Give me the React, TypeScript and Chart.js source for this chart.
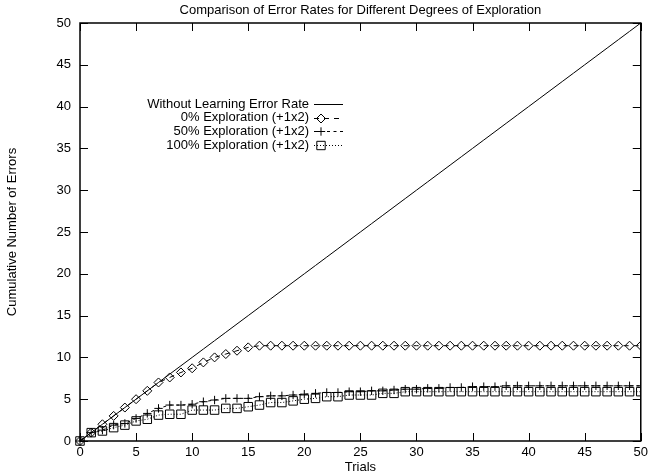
import React, { useEffect, useRef } from 'react';
import { Chart, registerables } from 'chart.js';

Chart.register(...registerables);

const chartTitle = 'Comparison of Error Rates for Different Degrees of Exploration';
const xAxisTitle = 'Trials';
const yAxisTitle = 'Cumulative Number of Errors';

const trials = [
  0, 1, 2, 3, 4, 5, 6, 7, 8, 9, 10, 11, 12, 13, 14, 15, 16, 17, 18, 19, 20, 21, 22, 23, 24, 25,
  26, 27, 28, 29, 30, 31, 32, 33, 34, 35, 36, 37, 38, 39, 40, 41, 42, 43, 44, 45, 46, 47, 48, 49, 50,
];

const withoutLearning = [
  0, 1, 2, 3, 4, 5, 6, 7, 8, 9, 10, 11, 12, 13, 14, 15, 16, 17, 18, 19, 20, 21, 22, 23, 24, 25,
  26, 27, 28, 29, 30, 31, 32, 33, 34, 35, 36, 37, 38, 39, 40, 41, 42, 43, 44, 45, 46, 47, 48, 49, 50,
];

const exploration0 = [
  0, 1, 2, 3, 4, 5, 6, 7, 7.6, 8.2, 8.7, 9.4, 10.0, 10.4, 10.8, 11.2, 11.4, 11.4, 11.4, 11.4, 11.4,
  11.4, 11.4, 11.4, 11.4, 11.4, 11.4, 11.4, 11.4, 11.4, 11.4, 11.4, 11.4, 11.4, 11.4, 11.4, 11.4,
  11.4, 11.4, 11.4, 11.4, 11.4, 11.4, 11.4, 11.4, 11.4, 11.4, 11.4, 11.4, 11.4, 11.4,
];

const exploration50 = [
  0, 1.0, 1.3, 1.9, 2.1, 2.7, 3.3, 3.9, 4.3, 4.3, 4.4, 4.7, 4.9, 5.1, 5.1, 5.1, 5.3, 5.4, 5.4, 5.5,
  5.6, 5.7, 5.8, 5.8, 5.9, 5.9, 6.0, 6.0, 6.1, 6.2, 6.2, 6.3, 6.3, 6.4, 6.4, 6.5, 6.5, 6.5, 6.6,
  6.6, 6.6, 6.6, 6.6, 6.6, 6.6, 6.6, 6.6, 6.6, 6.6, 6.6, 6.6,
];

const exploration100 = [
  0, 1.0, 1.2, 1.6, 1.9, 2.4, 2.6, 3.1, 3.2, 3.2, 3.7, 3.7, 3.7, 3.9, 3.9, 4.1, 4.3, 4.6, 4.6, 4.8,
  5.0, 5.1, 5.3, 5.3, 5.5, 5.5, 5.5, 5.7, 5.7, 5.9, 5.9, 5.9, 5.9, 5.9, 5.9, 5.9, 5.9, 5.9, 5.9,
  5.9, 5.9, 5.9, 5.9, 5.9, 5.9, 5.9, 5.9, 5.9, 5.9, 5.9, 5.9,
];

const xTicks = [0, 5, 10, 15, 20, 25, 30, 35, 40, 45, 50];
const yTicks = [0, 5, 10, 15, 20, 25, 30, 35, 40, 45, 50];

const seriesLabels = [
  'Without Learning Error Rate',
  '0% Exploration (+1x2)',
  '50% Exploration (+1x2)',
  '100% Exploration (+1x2)',
];

const FONT = '"Liberation Sans", Arial, Helvetica, sans-serif';
const FS = 13;

type Marker = 'none' | 'diamond' | 'plus' | 'square';

const seriesStyle: { dash: number[]; marker: Marker }[] = [
  { dash: [], marker: 'none' },
  { dash: [5, 5], marker: 'diamond' },
  { dash: [3, 3.5], marker: 'plus' },
  { dash: [1, 2], marker: 'square' },
];

function drawMarker(ctx: CanvasRenderingContext2D, m: Marker, cx: number, cy: number) {
  ctx.beginPath();
  ctx.setLineDash([]);
  if (m === 'diamond') {
    const r = 4.5;
    ctx.moveTo(cx, cy - r);
    ctx.lineTo(cx + r, cy);
    ctx.lineTo(cx, cy + r);
    ctx.lineTo(cx - r, cy);
    ctx.closePath();
  } else if (m === 'plus') {
    const r = 4.2;
    ctx.moveTo(cx - r, cy);
    ctx.lineTo(cx + r, cy);
    ctx.moveTo(cx, cy - r);
    ctx.lineTo(cx, cy + r);
  } else if (m === 'square') {
    const h = 4.2;
    ctx.rect(cx - h, cy - h, 2 * h, 2 * h);
  }
  ctx.stroke();
}

const framePlugin = {
  id: 'gnuplotFrame',
  afterDraw(chart: any) {
    const { ctx, chartArea: a, scales } = chart;
    const xs = scales.x;
    const ys = scales.y;
    ctx.save();
    ctx.strokeStyle = '#000';
    ctx.fillStyle = '#000';
    // inward tick marks
    ctx.lineWidth = 1;
    const tl = 8;
    ctx.beginPath();
    xTicks.forEach((v) => {
      const px = Math.round(xs.getPixelForValue(v)) + 0.5;
      ctx.moveTo(px, a.bottom);
      ctx.lineTo(px, a.bottom - tl);
      ctx.moveTo(px, a.top);
      ctx.lineTo(px, a.top + tl);
    });
    yTicks.forEach((v) => {
      const py = Math.round(ys.getPixelForValue(v)) + 0.5;
      ctx.moveTo(a.left, py);
      ctx.lineTo(a.left + tl, py);
      ctx.moveTo(a.right, py);
      ctx.lineTo(a.right - tl, py);
    });
    ctx.stroke();
    // frame
    ctx.lineWidth = 1.5;
    ctx.strokeRect(a.left, a.top, a.right - a.left, a.bottom - a.top);

    // title
    ctx.font = `${FS}px ${FONT}`;
    ctx.textAlign = 'center';
    ctx.textBaseline = 'middle';
    ctx.fillText(chartTitle, (a.left + a.right) / 2, 10);

    // key
    const textRight = a.left + 229;
    const sampleL = a.left + 234;
    const sampleR = a.left + 263;
    const markerX = a.left + 241;
    const rowY0 = a.top + 81;
    const rowH = 13.7;
    ctx.textAlign = 'right';
    ctx.lineWidth = 1;
    seriesLabels.forEach((label, i) => {
      const yy = rowY0 + i * rowH;
      ctx.fillText(label, textRight, yy);
      ctx.beginPath();
      ctx.setLineDash(seriesStyle[i].dash);
      ctx.moveTo(sampleL, Math.round(yy) + 0.5);
      ctx.lineTo(sampleR, Math.round(yy) + 0.5);
      ctx.stroke();
      if (seriesStyle[i].marker !== 'none') {
        drawMarker(ctx, seriesStyle[i].marker, markerX, Math.round(yy) + 0.5);
      }
    });
    ctx.restore();
  },
};

export default function App() {
  const canvasRef = useRef<HTMLCanvasElement | null>(null);

  useEffect(() => {
    const canvas = canvasRef.current;
    if (!canvas) return;
    const toPts = (ys: number[]) => trials.map((t, i) => ({ x: t, y: ys[i] }));
    const common = {
      borderColor: '#000',
      borderWidth: 1,
      tension: 0,
      fill: false,
      pointBorderColor: '#000',
      pointBackgroundColor: 'rgba(0,0,0,0)',
      pointBorderWidth: 1,
      pointHoverRadius: 0,
      clip: { left: 8, top: 8, right: 0, bottom: 8 },
    };
    const chart = new Chart(canvas, {
      type: 'line',
      data: {
        datasets: [
          { ...common, label: seriesLabels[0], data: toPts(withoutLearning), pointRadius: 0 },
          {
            ...common,
            label: seriesLabels[1],
            data: toPts(exploration0),
            borderDash: seriesStyle[1].dash,
            pointStyle: 'rectRot',
            pointRadius: 4.5,
          },
          {
            ...common,
            label: seriesLabels[2],
            data: toPts(exploration50),
            borderDash: seriesStyle[2].dash,
            pointStyle: 'cross',
            pointRadius: 4.2,
          },
          {
            ...common,
            label: seriesLabels[3],
            data: toPts(exploration100),
            borderDash: seriesStyle[3].dash,
            pointStyle: 'rect',
            pointRadius: 6,
          },
        ],
      },
      options: {
        responsive: false,
        animation: false,
        events: [],
        layout: { padding: { top: 23, right: 6, left: 0, bottom: 0 } },
        plugins: {
          legend: { display: false },
          title: { display: false },
          tooltip: { enabled: false },
        },
        scales: {
          x: {
            type: 'linear',
            min: 0,
            max: 50,
            afterBuildTicks: (s: any) => {
              s.ticks = xTicks.map((v) => ({ value: v }));
            },
            ticks: { color: '#000', font: { family: FONT, size: FS }, padding: 4, maxRotation: 0, autoSkip: false },
            grid: { display: false, drawTicks: false },
            border: { display: false },
            title: {
              display: true,
              text: xAxisTitle,
              color: '#000',
              font: { family: FONT, size: FS },
              padding: { top: 0, bottom: 1 },
            },
            afterFit: (s: any) => {
              s.height = 35;
            },
          },
          y: {
            type: 'linear',
            min: 0,
            max: 50,
            afterBuildTicks: (s: any) => {
              s.ticks = yTicks.map((v) => ({ value: v }));
            },
            ticks: { color: '#000', font: { family: FONT, size: FS }, padding: 9, autoSkip: false },
            grid: { display: false, drawTicks: false },
            border: { display: false },
            title: {
              display: true,
              text: yAxisTitle,
              color: '#000',
              font: { family: FONT, size: FS },
              padding: { top: 4.5, bottom: 0 },
            },
            afterFit: (s: any) => {
              s.width = 80;
            },
          },
        },
      } as any,
      plugins: [framePlugin],
    });
    return () => chart.destroy();
  }, []);

  return (
    <div style={{ position: 'absolute', left: 0, top: 0, width: 652, height: 476, background: '#fff' }}>
      <canvas ref={canvasRef} width={652} height={476} style={{ display: 'block' }} />
    </div>
  );
}
